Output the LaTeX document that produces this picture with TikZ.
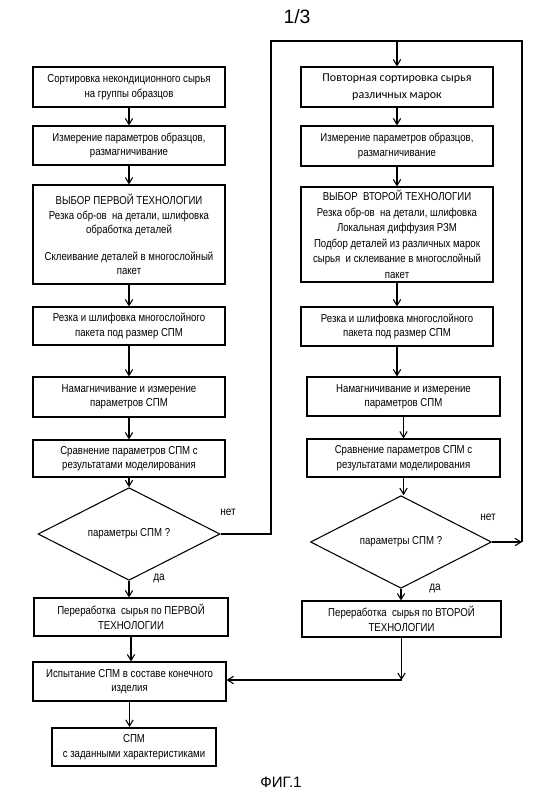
\documentclass[tikz,border=0pt]{standalone}
\usepackage{fontspec}
\setmainfont{Liberation Sans}[FakeStretch=0.84]
\newfontfamily\plainsans{Liberation Sans}
\newfontfamily\calib{Carlito}
\usetikzlibrary{shapes.geometric,arrows.meta}
\begin{document}
\begin{tikzpicture}[x=0.75pt,y=-0.75pt,
  every node/.style={font=\fontsize{8.6}{10.8}\selectfont},
  bx/.style 2 args={draw, line width=0.8pt, align=center, inner sep=0pt,
    minimum width=#1*0.75pt, minimum height=#2*0.75pt},
  dm/.style 2 args={draw, diamond, line width=0.8pt, inner sep=0pt,
    minimum width=#1*0.75pt, minimum height=#2*0.75pt},
  arr/.style={-{Straight Barb[length=4.5pt,width=5.5pt]}, line width=0.8pt},
  ln/.style={line width=0.8pt},
  lbl/.style={font=\fontsize{9}{11}\selectfont}]
\useasboundingbox (0,0) rectangle (556,808);

\node[font=\plainsans\fontsize{14.5}{16}\selectfont] (title) at (297,17) {1/3};
\node[font=\plainsans\fontsize{11.3}{13}\selectfont] (fig) at (281,782) {ФИГ.1};

% left column
\node[bx={192}{40}] (L1) at (129,87) {Сортировка некондиционного сырья\\на группы образцов};
\node[bx={192}{39}] (L2) at (129,145.5) {Измерение параметров образцов,\\размагничивание};
\node[bx={192}{99}] (L3) at (129,234.5) {ВЫБОР ПЕРВОЙ ТЕХНОЛОГИИ\\Резка обр-ов\ \ на детали, шлифовка\\обработка деталей\\[9pt]Склеивание деталей в многослойный\\пакет};
\node[bx={192}{38}] (L4) at (129,326) {Резка и шлифовка многослойного\\пакета под размер СПМ};
\node[bx={192}{40}] (L5) at (129,397) {Намагничивание и измерение\\параметров СПМ};
\node[bx={192}{37}] (L6) at (129,458.5) {Сравнение параметров СПМ с\\результатами моделирования};
\node[dm={182}{74}] (D1) at (129,534) {параметры СПМ ?};
\node[bx={194}{38}] (L7) at (131,617) {Переработка\ \ сырья по ПЕРВОЙ\\ТЕХНОЛОГИИ};
\node[bx={193}{39}] (L8) at (129.5,681.5) {Испытание СПМ в составе конечного\\изделия};
\node[bx={164}{38}, line width=1.6pt] (L9) at (134,747) {СПМ\\с заданными характеристиками};

% right column
\node[bx={192}{40}, font=\calib\fontsize{9}{12.8}\selectfont] (R1) at (397,87) {Повторная сортировка сырья\\различных марок};
\node[bx={192}{40}] (R2) at (397,146) {Измерение параметров образцов,\\размагничивание};
\node[bx={192}{95}, font=\fontsize{8.6}{11.6}\selectfont] (R3) at (397,234.5) {ВЫБОР\ \ ВТОРОЙ ТЕХНОЛОГИИ\\Резка обр-ов\ \ на детали, шлифовка\\Локальная диффузия РЗМ\\Подбор деталей из различных марок\\сырья\ \ и склеивание в многослойный\\пакет};
\node[bx={192}{39}] (R4) at (397,326.5) {Резка и шлифовка многослойного\\пакета под размер СПМ};
\node[bx={193}{39}] (R5) at (403.5,396.5) {Намагничивание и измерение\\параметров СПМ};
\node[bx={193}{38}] (R6) at (403.5,458) {Сравнение параметров СПМ с\\результатами моделирования};
\node[dm={181}{72}] (D2) at (401,542) {параметры СПМ ?};
\node[bx={199}{36}] (R7) at (401.5,619) {Переработка\ \ сырья по ВТОРОЙ\\ТЕХНОЛОГИИ};

% labels
\node[lbl] (no1) at (228,512) {нет};
\node[lbl] (yes1) at (159,578) {да};
\node[lbl] (no2) at (488,517) {нет};
\node[lbl] (yes2) at (435,588) {да};

% loop coordinates
\coordinate (c1) at (271,41);
\coordinate (c2) at (522,41);
\coordinate (c3) at (522,542);
\coordinate (cor) at (402,680);

% left arrows
\foreach \a/\b in {L1/L2,L2/L3,L3/L4,L4/L5,L5/L6,L6/D1,D1/L7,L7/L8,L8/L9}
  \draw[arr] (\a.south) -- (\a.south |- \b.north);
% right arrows
\foreach \a/\b in {R1/R2,R2/R3,R3/R4,R4/R5,R5/R6,R6/D2,D2/R7}
  \draw[arr] (\a.south) -- (\a.south |- \b.north);

% loop
\draw[ln] (D1.east) -| (c1) -- (c2) -- (c3);
\draw[arr] (R1.north |- c1) -- (R1.north);
\draw[arr] (D2.east) -- (c3);
\draw[arr] (R7.south) -- (R7.south |- cor);
\draw[arr] (cor) -- (cor -| L8.east);
\end{tikzpicture}
\end{document}
